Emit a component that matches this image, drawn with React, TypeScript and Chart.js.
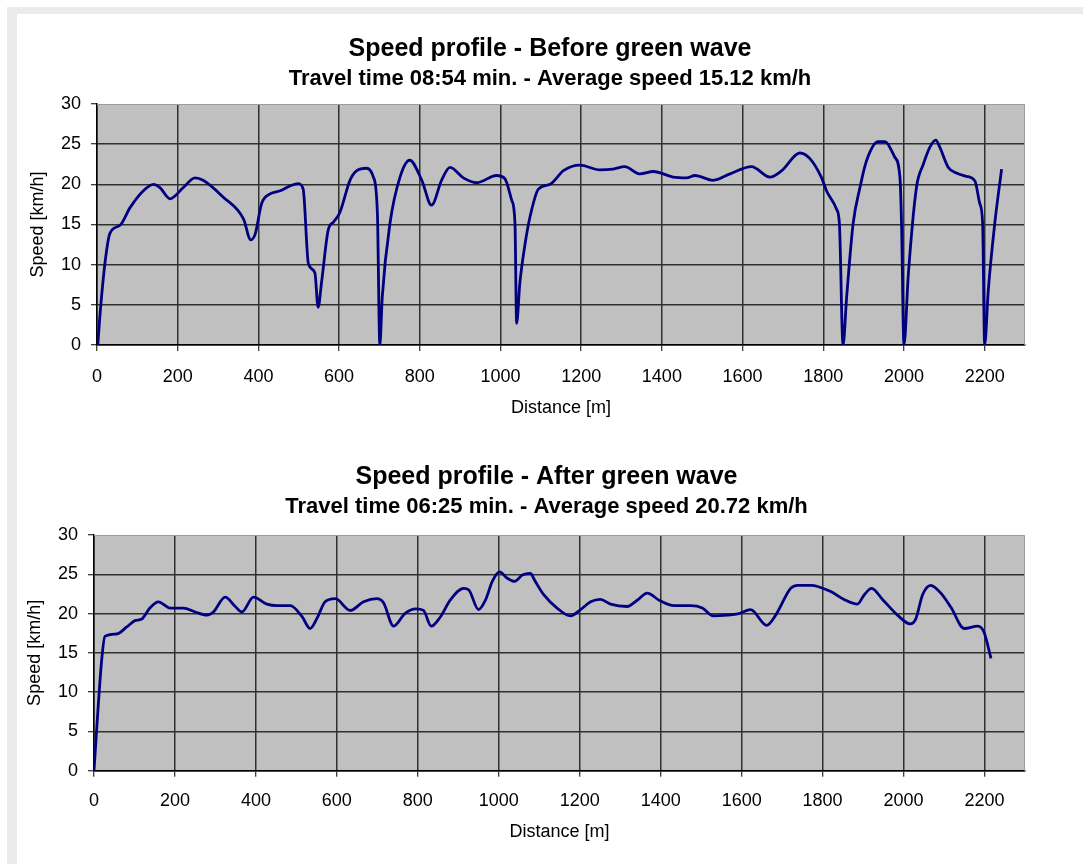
import React, { useEffect, useRef } from 'react';
import { Chart, registerables } from 'chart.js';

Chart.register(...registerables);

// ---- Data ----
const distanceBefore = [
  2, 7, 20, 32, 57, 82, 115, 140, 156, 181, 214, 243, 263, 313, 363, 381, 392, 408, 429, 454,
  478, 499, 511, 524, 540, 548, 557, 573, 586, 602, 627, 644, 668, 685, 695, 701, 707, 726, 751, 775,
  805, 829, 854, 875, 908, 941, 990, 1011, 1028, 1036, 1040, 1048, 1061, 1073, 1094, 1123, 1156, 1197, 1246, 1279,
  1308, 1346, 1379, 1428, 1461, 1482, 1527, 1569, 1622, 1668, 1697, 1742, 1767, 1796, 1808, 1833, 1840, 1849, 1858, 1874,
  1891, 1907, 1936, 1953, 1977, 1990, 1994, 2000, 2011, 2031, 2048, 2064, 2079, 2089, 2110, 2130, 2155, 2176, 2188, 2195,
  2200, 2209, 2225, 2242,
];
const speedBefore = [
  0, 3.5, 10.3, 13.9, 14.9, 17.1, 19.2, 20.0, 19.6, 18.2, 19.6, 20.8, 20.5, 18.4, 15.7, 13.1, 13.8, 17.6, 18.8, 19.2,
  19.8, 20.1, 19.4, 10.1, 9.0, 4.7, 8.0, 14.3, 15.3, 16.5, 20.5, 21.7, 22.0, 20.9, 16.3, 0, 6.0, 15.1, 20.9, 23.0,
  20.5, 17.4, 20.5, 22.1, 20.8, 20.2, 21.1, 20.7, 18.0, 15.1, 2.7, 7.7, 12.6, 15.9, 19.4, 20.0, 21.7, 22.4, 21.8, 21.9,
  22.2, 21.3, 21.6, 20.9, 20.8, 21.1, 20.5, 21.3, 22.2, 20.9, 21.7, 23.9, 23.2, 20.8, 19.2, 16.9, 15.1, 0, 6.0, 15.1,
  19.6, 22.9, 25.3, 25.3, 23.4, 20.9, 15.1, 0, 8.9, 19.6, 22.5, 24.6, 25.5, 24.6, 22.1, 21.4, 21.0, 20.4, 17.6, 15.1,
  0, 6.8, 15.1, 21.9,
];
const distanceAfter = [
  0, 7, 19, 27, 56, 81, 101, 118, 138, 159, 188, 221, 250, 279, 295, 324, 349, 365, 394, 427,
  452, 485, 514, 534, 551, 571, 596, 633, 666, 699, 715, 740, 768, 795, 814, 833, 856, 880, 913, 926,
  950, 967, 984, 1002, 1021, 1039, 1058, 1078, 1090, 1111, 1144, 1177, 1202, 1227, 1251, 1276, 1317, 1342, 1367, 1396,
  1433, 1474, 1503, 1530, 1565, 1593, 1622, 1662, 1684, 1721, 1738, 1771, 1820, 1853, 1886, 1903, 1921, 1948, 1985, 2016,
  2030, 2047, 2067, 2092, 2117, 2150, 2183, 2199, 2216,
];
const speedAfter = [
  0, 5.6, 14.1, 17.1, 17.4, 18.3, 19.1, 19.3, 20.7, 21.5, 20.7, 20.7, 20.2, 19.8, 20.2, 22.1, 20.9, 20.2, 22.1, 21.2,
  21.0, 21.0, 19.6, 18.1, 19.4, 21.5, 21.9, 20.4, 21.5, 21.9, 21.4, 18.4, 20.0, 20.6, 20.4, 18.4, 19.6, 21.7, 23.2, 23.0,
  20.5, 21.7, 24.1, 25.3, 24.5, 24.1, 24.9, 25.1, 24.1, 22.4, 20.7, 19.7, 20.5, 21.5, 21.8, 21.2, 20.9, 21.7, 22.6, 21.7,
  21.0, 21.0, 20.7, 19.7, 19.8, 20.0, 20.5, 18.5, 19.8, 23.2, 23.6, 23.6, 22.8, 21.8, 21.2, 22.4, 23.2, 21.8, 19.8, 18.7,
  19.3, 22.4, 23.6, 22.6, 20.8, 18.1, 18.4, 17.6, 14.3,
];

const titleBefore = 'Speed profile - Before green wave';
const subtitleBefore = 'Travel time 08:54 min. - Average speed 15.12 km/h';
const titleAfter = 'Speed profile - After green wave';
const subtitleAfter = 'Travel time 06:25 min. - Average speed 20.72 km/h';
const xAxisTitle = 'Distance [m]';
const yAxisTitle = 'Speed [km/h]';

const yMin = 0;
const yMax = 30;
const yStep = 5;
const xMin = 0;
const xMax = 2300;
const xStep = 200;
const xLastTick = 2200;

const FONT = '"Liberation Sans", Arial, Helvetica, sans-serif';
const W = 1083;
const PLOT_RIGHT = 1025;

const plotFrame = {
  id: 'plotFrame',
  beforeDraw(chart: any) {
    const { ctx, chartArea: a } = chart;
    ctx.save();
    ctx.fillStyle = '#c0c0c0';
    ctx.fillRect(a.left, a.top, a.right - a.left, a.bottom - a.top);
    ctx.restore();
  },
  beforeDatasetsDraw(chart: any) {
    const { ctx, chartArea: a } = chart;
    ctx.save();
    ctx.strokeStyle = '#9c9c9c';
    ctx.lineWidth = 1;
    ctx.beginPath();
    ctx.moveTo(a.left, Math.round(a.top) + 0.5);
    ctx.lineTo(Math.round(a.right) - 0.5, Math.round(a.top) + 0.5);
    ctx.lineTo(Math.round(a.right) - 0.5, a.bottom);
    ctx.stroke();
    ctx.restore();
  },
};

type P = {
  distances: number[];
  speeds: number[];
  title: string;
  subtitle: string;
  top: number;
  height: number;
  titleCenter: number;
  plotLeft: number;
  plotBottom: number;
  titlePadTop: number;
  subPadTop: number;
  subPadBottom: number;
  yTitleX: number;
  xTitleY: number;
  xTickPad: number;
};

const BOX_LEFT = 40;

function SpeedChart(p: P) {
  const ref = useRef<HTMLCanvasElement | null>(null);
  useEffect(() => {
    const font = { family: FONT, size: 18 };
    const gridColor = (ctx: any) => (ctx.tick && ctx.tick.value === yMax ? 'rgba(0,0,0,0)' : '#303030');
    // title box spans [BOX_LEFT, boxRight]; centre it where the reference title sits
    const boxRight = 2 * p.titleCenter - BOX_LEFT;
    const rightPad = W - boxRight;
    const spacerWidth = boxRight - PLOT_RIGHT;
    const chart = new Chart(ref.current as HTMLCanvasElement, {
      type: 'line',
      data: {
        datasets: [
          {
            data: p.distances.map((d, i) => ({ x: d, y: p.speeds[i] })),
            borderColor: '#000080',
            borderWidth: 2.8,
            pointRadius: 0,
            fill: false,
            cubicInterpolationMode: 'monotone',
            yAxisID: 'y',
          },
        ],
      },
      options: {
        responsive: false,
        animation: false,
        devicePixelRatio: 1,
        layout: { padding: { left: BOX_LEFT, right: rightPad, top: 0, bottom: 0 } },
        plugins: {
          legend: { display: false },
          tooltip: { enabled: false },
          title: {
            display: true,
            text: p.title,
            color: '#000',
            font: { family: FONT, size: 25, weight: 'bold' },
            padding: { top: p.titlePadTop, bottom: 0 },
          },
          subtitle: {
            display: true,
            text: p.subtitle,
            color: '#000',
            font: { family: FONT, size: 22, weight: 'bold' },
            padding: { top: p.subPadTop, bottom: p.subPadBottom },
          },
        },
        scales: {
          x: {
            type: 'linear',
            min: xMin,
            max: xMax,
            ticks: {
              stepSize: xStep,
              maxTicksLimit: 30,
              includeBounds: false,
              font,
              color: '#000',
              padding: p.xTickPad,
              maxRotation: 0,
              autoSkip: false,
              callback: (v: any) => String(v),
            },
            afterBuildTicks: (s: any) => {
              s.ticks = s.ticks.filter((t: any) => t.value <= xLastTick + 0.001);
            },
            grid: { color: '#303030', lineWidth: 1.5, tickLength: 6, tickColor: '#000', tickWidth: 1 },
            border: { color: '#000', width: 1.5 },
            title: {
              display: true,
              text: xAxisTitle,
              color: '#000',
              font,
              padding: { top: 0, bottom: p.height - p.xTitleY - 10.8 },
            },
            afterFit: (s: any) => {
              s.height = p.height - p.plotBottom;
            },
          },
          y: {
            position: 'left',
            min: yMin,
            max: yMax,
            ticks: { stepSize: yStep, font, color: '#000', padding: 10 },
            grid: { color: gridColor, lineWidth: 1.5, tickLength: 6, tickColor: '#000', tickWidth: 1 },
            border: { color: '#000', width: 1.5 },
            title: {
              display: true,
              text: yAxisTitle,
              color: '#000',
              font,
              padding: { top: p.yTitleX - BOX_LEFT - 10.8, bottom: 0 },
            },
            afterFit: (s: any) => {
              s.width = p.plotLeft - BOX_LEFT;
            },
          },
          spacer: {
            type: 'linear',
            position: 'right',
            display: true,
            ticks: { display: false },
            grid: { display: false, drawTicks: false },
            border: { display: false },
            title: { display: false },
            afterFit: (s: any) => {
              s.width = spacerWidth;
            },
          },
        },
      },
      plugins: [plotFrame],
    } as any);
    return () => chart.destroy();
  }, []);
  return (
    <canvas
      ref={ref}
      width={W}
      height={p.height}
      style={{ position: 'absolute', left: 0, top: p.top, width: W, height: p.height }}
    />
  );
}

export default function App() {
  return (
    <div style={{ position: 'fixed', left: 0, top: 0, width: W, height: 864, background: '#ffffff', overflow: 'hidden' }}>
      <div style={{ position: 'absolute', left: 7, top: 7, right: 0, bottom: 0, background: '#ebebeb' }} />
      <div style={{ position: 'absolute', left: 17, top: 14, right: 0, bottom: 0, background: '#ffffff' }} />
      <SpeedChart
        top={0}
        height={430}
        distances={distanceBefore}
        speeds={speedBefore}
        title={titleBefore}
        subtitle={subtitleBefore}
        titleCenter={550}
        plotLeft={97}
        plotBottom={345}
        titlePadTop={34}
        subPadTop={1.8}
        subPadBottom={11.8}
        yTitleX={38}
        xTitleY={408}
        xTickPad={15}
      />
      <SpeedChart
        top={430}
        height={434}
        distances={distanceAfter}
        speeds={speedAfter}
        title={titleAfter}
        subtitle={subtitleAfter}
        titleCenter={546.5}
        plotLeft={94}
        plotBottom={340.7}
        titlePadTop={32}
        subPadTop={1.8}
        subPadBottom={14.8}
        yTitleX={35}
        xTitleY={402}
        xTickPad={14}
      />
    </div>
  );
}
